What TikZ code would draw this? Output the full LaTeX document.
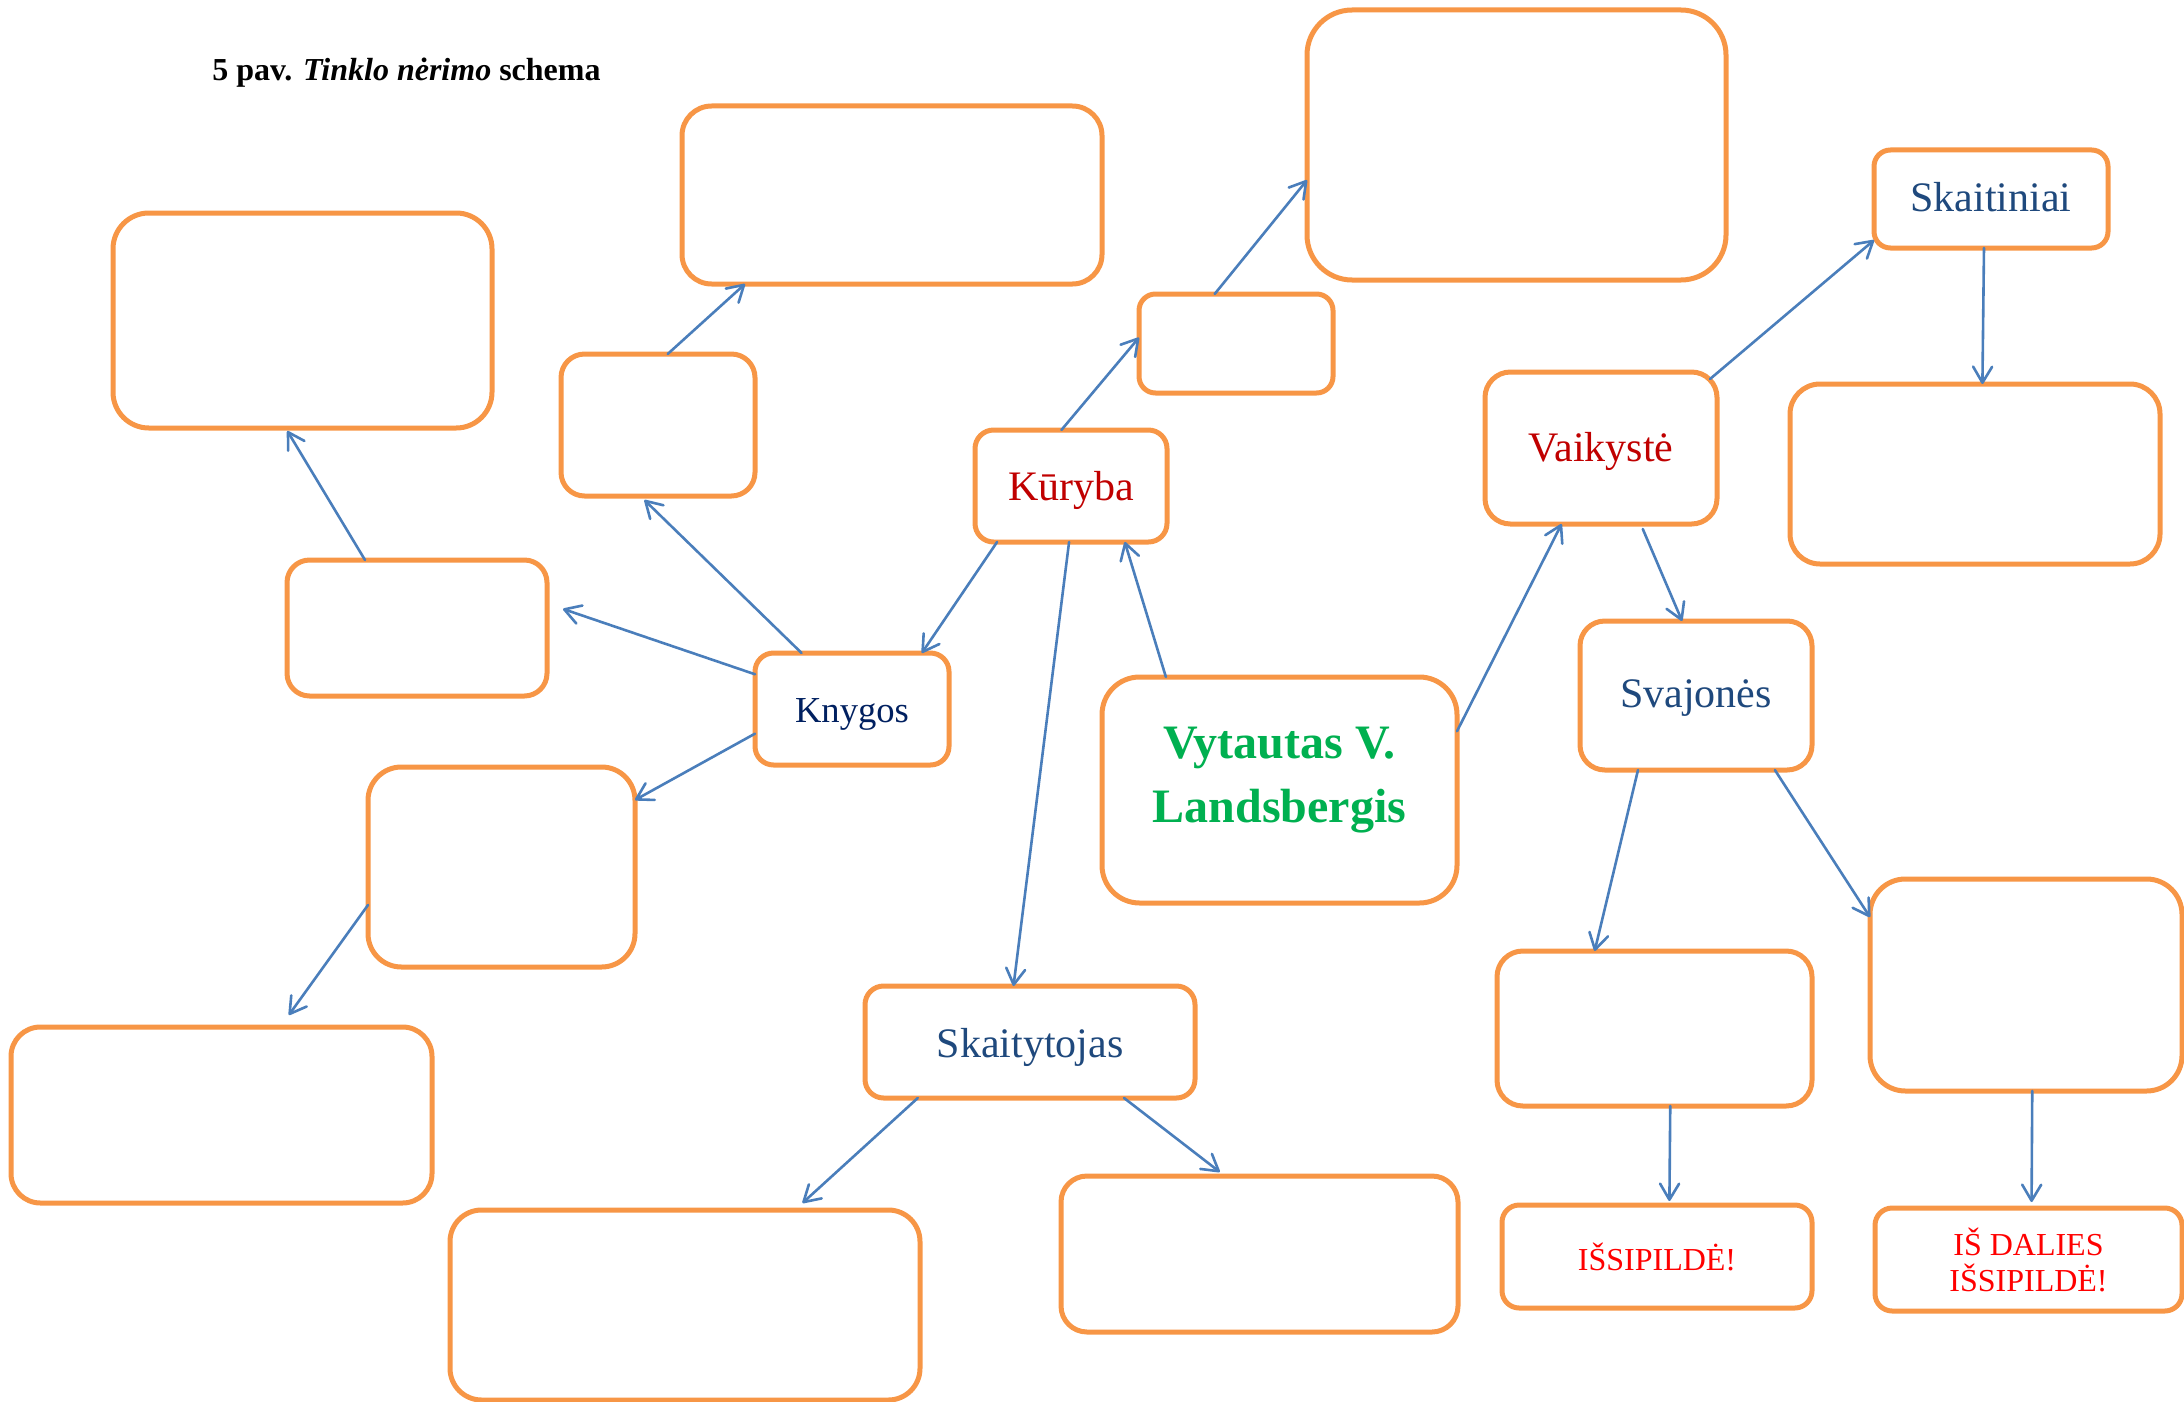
\documentclass[tikz,border=0pt]{standalone}
\usepackage{fontspec}
\setmainfont{Liberation Serif}
\usetikzlibrary{calc,arrows.meta}
\definecolor{orng}{HTML}{F79646}
\definecolor{arrblue}{HTML}{4A7EBB}
\definecolor{dred}{HTML}{C00000}
\definecolor{navy}{HTML}{002060}
\definecolor{dblue}{HTML}{1F497D}
\definecolor{vgreen}{HTML}{00B050}
\definecolor{bred}{HTML}{FF0000}
\newcommand{\shiftlbl}[2]{\raisebox{#1}[\height][\depth]{#2}}
\tikzset{
  box/.style={draw=orng, line width=2.5pt, fill=white, inner sep=0pt, outer sep=0pt, align=center},
  conn/.style={draw=arrblue, line width=1.3pt, line cap=round, -{Straight Barb[length=8pt,width=9.5pt,round]}},
  lbl/.style={font=\fontsize{21}{25}\selectfont},
}
\begin{document}
\begin{tikzpicture}[x=0.5pt,y=-0.5pt]
\useasboundingbox (0,0) rectangle (2184,1402);
% title
\node[anchor=base west, inner sep=0pt, font=\fontsize{16}{18}\selectfont\bfseries] (title) at (212,81) {5 pav. \textit{Tinklo nėrimo} schema};
% boxes
\node[box, rounded corners=17.9pt, minimum width=189.5pt, minimum height=107.5pt] (b1) at (302.5,320.5) {};
\node[box, rounded corners=14.8pt, minimum width=210pt, minimum height=89pt] (b2) at (892,195) {};
\node[box, rounded corners=22.5pt, minimum width=209.5pt, minimum height=135pt] (b3) at (1516.5,145) {};
\node[box, rounded corners=11.8pt, minimum width=97pt, minimum height=71pt] (b4) at (658,425) {};
\node[box, rounded corners=8.25pt, minimum width=97pt, minimum height=49.5pt] (b5) at (1236,343.5) {};
\node[box, rounded corners=9.3pt, minimum width=96pt, minimum height=56pt, lbl, text=dred] (kur) at (1071,486) {\shiftlbl{-2pt}{Kūryba}};
\node[box, rounded corners=12.7pt, minimum width=116pt, minimum height=76pt, lbl, text=dred] (vai) at (1601,448) {\shiftlbl{-1.5pt}{Vaikystė}};
\node[box, rounded corners=8.2pt, minimum width=117pt, minimum height=49pt, lbl, text=dblue] (ska) at (1991,199) {\shiftlbl{0.7pt}{Skaitiniai}};
\node[box, rounded corners=15pt, minimum width=185pt, minimum height=90pt] (b9) at (1975,474) {};
\node[box, rounded corners=11.3pt, minimum width=130pt, minimum height=68pt] (b10) at (417,628) {};
\node[box, rounded corners=9.3pt, minimum width=97pt, minimum height=56pt, font=\fontsize{18.3}{22}\selectfont, text=navy] (kny) at (852,709) {\shiftlbl{-2.8pt}{Knygos}};
\node[box, rounded corners=18.8pt, minimum width=177.5pt, minimum height=113pt] (vvl) at (1279.5,790) {};
\node[inner sep=0pt, align=center, font=\fontsize{24}{32}\selectfont\bfseries, text=vgreen] (vvltext) at ([yshift=5pt]vvl.center) {Vytautas V.\\Landsbergis};
\node[box, rounded corners=12.4pt, minimum width=116pt, minimum height=74.5pt, lbl, text=dblue] (sva) at (1696,695.5) {\shiftlbl{-1.5pt}{Svajonės}};
\node[box, rounded corners=16.7pt, minimum width=133.5pt, minimum height=100pt] (b14) at (501.5,867) {};
\node[box, rounded corners=14.7pt, minimum width=210.5pt, minimum height=88pt] (b15) at (221.5,1115) {};
\node[box, rounded corners=9.3pt, minimum width=165pt, minimum height=56pt, lbl, text=dblue] (skt) at (1030,1042) {\shiftlbl{-2.8pt}{Skaitytojas}};
\node[box, rounded corners=15.8pt, minimum width=235pt, minimum height=95pt] (b17) at (685,1305) {};
\node[box, rounded corners=13pt, minimum width=198.5pt, minimum height=78pt] (b18) at (1259.5,1254) {};
\node[box, rounded corners=12.9pt, minimum width=157.5pt, minimum height=77.5pt] (b19) at (1654.5,1028.5) {};
\node[box, rounded corners=17.7pt, minimum width=156pt, minimum height=106pt] (b20) at (2026,985) {};
\node[box, rounded corners=8.6pt, minimum width=155pt, minimum height=51.5pt, font=\fontsize{16}{18}\selectfont, text=bred] (iss) at (1657,1256.5) {IŠSIPILDĖ!};
\node[box, rounded corners=8.6pt, minimum width=153.5pt, minimum height=51.5pt, font=\fontsize{16}{18}\selectfont, text=bred] (dal) at (2028.5,1259.5) {IŠ DALIES\\IŠSIPILDĖ!};
% connectors
\draw[conn] ($(kur.south west)!0.115!(kur.south east)$) -- ($(kny.north west)!0.86!(kny.north east)$);
\draw[conn] ($(kur.north west)!0.45!(kur.north east)$) -- ($(b5.north west)!0.44!(b5.south west)$);
\draw[conn] ($(b5.north west)!0.39!(b5.north east)$) -- ($(b3.north west)!0.63!(b3.south west)$);
\draw[conn] ($(kur.south west)!0.49!(kur.south east)$) -- ($(skt.north west)!0.45!(skt.north east)$);
\draw[conn] ($(vvl.north west)!0.18!(vvl.north east)$) -- ($(kur.south west)!0.78!(kur.south east)$);
\draw[conn] ($(vvl.north east)!0.24!(vvl.south east)$) -- ($(vai.south west)!0.33!(vai.south east)$);
\draw[conn] ([yshift=-3.5pt]$(vai.north west)!0.97!(vai.north east)$) -- ($(ska.north west)!0.92!(ska.south west)$);
\draw[conn] ($(ska.south west)!0.47!(ska.south east)$) -- ($(b9.north west)!0.52!(b9.north east)$);
\draw[conn] ([yshift=-2.5pt]$(vai.south west)!0.68!(vai.south east)$) -- ($(sva.north west)!0.44!(sva.north east)$);
\draw[conn] ($(sva.south west)!0.25!(sva.south east)$) -- ($(b19.north west)!0.31!(b19.north east)$);
\draw[conn] ($(sva.south west)!0.84!(sva.south east)$) -- ($(b20.north west)!0.18!(b20.south west)$);
\draw[conn] ($(b19.south west)!0.55!(b19.south east)$) -- ([yshift=2pt]$(iss.north west)!0.54!(iss.north east)$);
\draw[conn] ($(b20.south west)!0.52!(b20.south east)$) -- ([yshift=3pt]$(dal.north west)!0.51!(dal.north east)$);
\draw[conn] ($(kny.north west)!0.24!(kny.north east)$) -- ([yshift=-2pt]$(b4.south west)!0.43!(b4.south east)$);
\draw[conn] ($(b4.north west)!0.55!(b4.north east)$) -- ($(b2.south west)!0.15!(b2.south east)$);
\draw[conn] ($(kny.north west)!0.19!(kny.south west)$) -- ([xshift=8pt]$(b10.north east)!0.36!(b10.south east)$);
\draw[conn] ($(b10.north west)!0.30!(b10.north east)$) -- ([yshift=-1.5pt]$(b1.south west)!0.46!(b1.south east)$);
\draw[conn] ($(kny.north west)!0.72!(kny.south west)$) -- ($(b14.north east)!0.165!(b14.south east)$);
\draw[conn] ($(b14.north west)!0.69!(b14.south west)$) -- ([yshift=6pt]$(b15.north west)!0.66!(b15.north east)$);
\draw[conn] ($(skt.south west)!0.16!(skt.south east)$) -- ([yshift=3.5pt]$(b17.north west)!0.75!(b17.north east)$);
\draw[conn] ($(skt.south west)!0.785!(skt.south east)$) -- ([yshift=2pt]$(b18.north west)!0.40!(b18.north east)$);
\end{tikzpicture}
\end{document}
